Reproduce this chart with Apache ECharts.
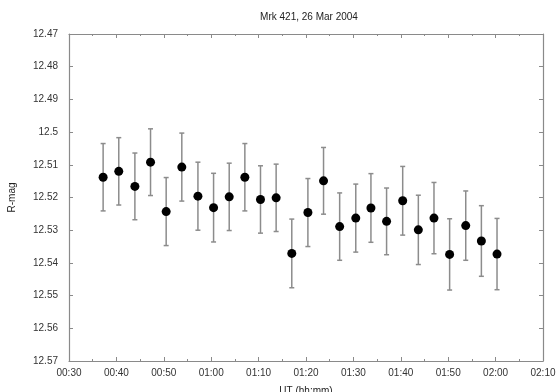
<!DOCTYPE html>
<html>
<head>
<meta charset="utf-8">
<script src="https://cdn.jsdelivr.net/npm/echarts@6/dist/echarts.min.js"></script>
<style>
  html, body { margin: 0; padding: 0; background: #fff; }
  #chart { width: 557px; height: 392px; }
</style>
</head>
<body>
<div id="chart"></div>
<script>
// UT in minutes after 00:00
var times = [37.2, 40.5, 43.9, 47.2, 50.5, 53.8, 57.2, 60.5, 63.8, 67.1, 70.4, 73.7, 77.0,
             80.4, 83.7, 87.1, 90.5, 93.7, 97.0, 100.4, 103.7, 107.0, 110.3, 113.7, 117.0, 120.3];
var mags = [12.5138, 12.5120, 12.5166, 12.5092, 12.5243, 12.5107, 12.5196, 12.5231, 12.5198,
            12.5138, 12.5206, 12.5201, 12.5371, 12.5246, 12.5149, 12.5289, 12.5263, 12.5232,
            12.5273, 12.5210, 12.5299, 12.5263, 12.5374, 12.5286, 12.5333, 12.5373];
var errs = [0.0103, 0.0103, 0.0102, 0.0102, 0.0104, 0.0104, 0.0104, 0.0105, 0.0103, 0.0103,
            0.0103, 0.0103, 0.0105, 0.0104, 0.0102, 0.0103, 0.0104, 0.0105, 0.0102, 0.0105,
            0.0106, 0.0109, 0.0109, 0.0106, 0.0108, 0.0109];

var points = times.map(function (t, i) { return [t, mags[i]]; });
var bars = times.map(function (t, i) { return [t, mags[i] - errs[i], mags[i] + errs[i]]; });

var axisGray = '#8a8a8a';
var labelFont = { fontFamily: 'Liberation Sans', fontSize: 10, color: '#333' };

function hhmm(v) {
    var h = Math.floor(v / 60), m = Math.round(v % 60);
    return (h < 10 ? '0' : '') + h + ':' + (m < 10 ? '0' : '') + m;
}

var chart = echarts.init(document.getElementById('chart'));
chart.setOption({
    animation: false,
    title: {
        text: 'Mrk 421, 26 Mar 2004',
        left: 304, top: 7, textAlign: 'center',
        textStyle: { fontFamily: 'Liberation Sans', fontSize: 10, fontWeight: 'normal', color: '#222' }
    },
    grid: { left: 69, right: 14, top: 34, bottom: 31, outerBoundsMode: 'none', containLabel: false },
    xAxis: [{
        type: 'value', min: 30, max: 130, interval: 10,
        name: 'UT (hh:mm)', nameLocation: 'middle', nameGap: 25,
        nameTextStyle: { fontFamily: 'Liberation Sans', fontSize: 10, color: '#222' },
        axisLine: { lineStyle: { color: axisGray, width: 1.2 } },
        axisTick: { inside: true, length: 4, lineStyle: { color: axisGray } },
        minorTick: { show: true, splitNumber: 2, length: 2, lineStyle: { color: axisGray } },
        axisLabel: Object.assign({ formatter: hhmm, margin: 7 }, labelFont),
        splitLine: { show: false }
    }, {
        type: 'value', position: 'top', min: 30, max: 130, interval: 10,
        axisLine: { lineStyle: { color: axisGray, width: 1.2 } },
        axisTick: { inside: true, length: 4, lineStyle: { color: axisGray } },
        minorTick: { show: true, splitNumber: 2, length: 2, lineStyle: { color: axisGray } },
        axisLabel: { show: false },
        splitLine: { show: false }
    }],
    yAxis: [{
        type: 'value', inverse: true, min: 12.47, max: 12.57, interval: 0.01,
        name: 'R-mag', nameLocation: 'middle', nameGap: 52, nameRotate: 90,
        nameTextStyle: { fontFamily: 'Liberation Sans', fontSize: 10, color: '#222' },
        axisLine: { lineStyle: { color: axisGray, width: 1.2 } },
        axisTick: { inside: true, length: 4, lineStyle: { color: axisGray } },
        axisLabel: Object.assign({
            margin: 11,
            formatter: function (v) { return String(parseFloat(v.toFixed(2))); }
        }, labelFont),
        splitLine: { show: false }
    }, {
        type: 'value', position: 'right', inverse: true, min: 12.47, max: 12.57, interval: 0.01,
        axisLine: { lineStyle: { color: axisGray, width: 1.2 } },
        axisTick: { inside: true, length: 4, lineStyle: { color: axisGray } },
        axisLabel: { show: false },
        splitLine: { show: false }
    }],
    series: [{
        type: 'custom',
        data: bars,
        z: 1,
        renderItem: function (params, api) {
            var lo = api.coord([api.value(0), api.value(1)]);
            var hi = api.coord([api.value(0), api.value(2)]);
            var cap = 2.5;
            var style = { stroke: '#8c8c8c', lineWidth: 1.5 };
            return {
                type: 'group',
                children: [
                    { type: 'line', shape: { x1: lo[0], y1: lo[1], x2: hi[0], y2: hi[1] }, style: style },
                    { type: 'line', shape: { x1: lo[0] - cap, y1: lo[1], x2: lo[0] + cap, y2: lo[1] }, style: style },
                    { type: 'line', shape: { x1: hi[0] - cap, y1: hi[1], x2: hi[0] + cap, y2: hi[1] }, style: style }
                ]
            };
        }
    }, {
        type: 'scatter',
        data: points,
        z: 2,
        symbol: 'circle',
        symbolSize: 9,
        itemStyle: { color: '#000', opacity: 1 }
    }]
});
</script>
</body>
</html>
